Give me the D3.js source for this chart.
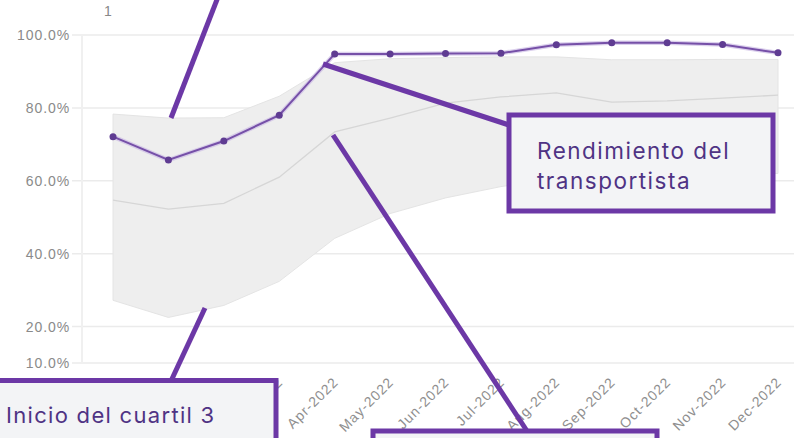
<!DOCTYPE html>
<html><head><meta charset="utf-8">
<script src="https://cdn.jsdelivr.net/npm/d3@7"></script>
<style>
html,body{margin:0;padding:0;background:#fff;}
svg{display:block;}
</style></head>
<body>
<svg id="c" width="794" height="438"></svg>
<script>
const months = ["Dec-2021","Jan-2022","Feb-2022","Mar-2022","Apr-2022","May-2022","Jun-2022","Jul-2022","Aug-2022","Sep-2022","Oct-2022","Nov-2022","Dec-2022"];
const carrier = [72.1, 65.7, 70.9, 78.0, 94.8, 94.8, 94.9, 95.0, 97.3, 97.9, 97.9, 97.4, 95.1];
const upper  = [78.3, 77.2, 77.3, 83.2, 92.4, 93.5, 93.8, 94.0, 94.0, 93.2, 93.2, 93.3, 93.3];
const median = [54.7, 52.2, 53.8, 61.0, 73.4, 77.2, 81.3, 83.0, 84.1, 81.6, 81.9, 82.7, 83.5];
const lower  = [27.2, 22.5, 25.8, 32.4, 44.2, 51.0, 55.3, 58.4, 60.6, 61.5, 61.8, 62.0, 62.0];
const yTicks = [10, 20, 40, 60, 80, 100];
const chartLabel = "1";
const notes = ["Inicio del cuartil 3", "Rendimiento del", "transportista"];

const svg = d3.select("#c");
const x = d3.scalePoint().domain(months).range([113, 778]);
const y = d3.scaleLinear().domain([10, 100]).range([363, 35]);
const rows = months.map((m, i) => ({m, c: carrier[i], u: upper[i], md: median[i], l: lower[i]}));

// grid
svg.append("g").selectAll("line").data(yTicks).join("line")
  .attr("x1", 72).attr("x2", 794)
  .attr("y1", d => y(d)).attr("y2", d => y(d))
  .attr("stroke", "#ebebeb").attr("stroke-width", 1.5);
svg.append("line").attr("x1", 82).attr("x2", 82).attr("y1", y(100)).attr("y2", y(10))
  .attr("stroke", "#f0f0f0").attr("stroke-width", 2);

// y axis
const ya = svg.append("g").attr("transform", "translate(82,0)")
  .call(d3.axisLeft(y).tickValues(yTicks).tickSize(0).tickPadding(12).tickFormat(d => d.toFixed(1) + "%"));
ya.select(".domain").remove();
ya.selectAll("text").attr("font-family", "Arial, Liberation Sans, sans-serif").attr("font-size", 14)
  .attr("letter-spacing", "0.9px").attr("fill", "#8a8a8a").attr("dy", "0.35em");

// x axis
const xa = svg.append("g").attr("transform", "translate(0,363)")
  .call(d3.axisBottom(x).tickSize(0));
xa.select(".domain").remove();
xa.selectAll("text").attr("font-family", "Arial, Liberation Sans, sans-serif").attr("font-size", 14)
  .attr("letter-spacing", "1px").attr("fill", "#8f8f8f")
  .attr("x", 0).attr("y", 0).attr("dy", 0).attr("text-anchor", "end")
  .attr("transform", "translate(4,20) rotate(-45)");

// title "1"
svg.append("text").attr("x", 104).attr("y", 16).attr("font-family", "Arial, Liberation Sans, sans-serif")
  .attr("font-size", 14).attr("fill", "#888").text(chartLabel);

// band
svg.append("path").datum(rows)
  .attr("d", d3.area().x(d => x(d.m)).y0(d => y(d.l)).y1(d => y(d.u)))
  .attr("fill", "#eeeeee").attr("stroke", "#e4e4e4").attr("stroke-width", 1);
svg.append("path").datum(rows)
  .attr("d", d3.line().x(d => x(d.m)).y(d => y(d.md)))
  .attr("fill", "none").attr("stroke", "#d6d6d6").attr("stroke-width", 1.3);

// carrier line
const ln = d3.line().x(d => x(d.m)).y(d => y(d.c));
svg.append("path").datum(rows).attr("d", ln).attr("fill", "none")
  .attr("stroke", "#cdbde6").attr("stroke-width", 4.5).attr("opacity", 0.7);
svg.append("path").datum(rows).attr("d", ln).attr("fill", "none")
  .attr("stroke", "#7650a8").attr("stroke-width", 2);
svg.append("g").selectAll("circle").data(rows).join("circle")
  .attr("cx", d => x(d.m)).attr("cy", d => y(d.c)).attr("r", 3.5).attr("fill", "#5f3c92");

// annotations
const P = "#6c38a6";
const ann = svg.append("g").attr("stroke", P).attr("stroke-width", 5).attr("stroke-linecap", "butt");
ann.append("line").attr("x1", 218).attr("y1", -3).attr("x2", 171).attr("y2", 118);
ann.append("line").attr("x1", 205).attr("y1", 308).attr("x2", 171).attr("y2", 381);
ann.append("line").attr("x1", 323).attr("y1", 64).attr("x2", 509).attr("y2", 125);
ann.append("line").attr("x1", 333).attr("y1", 135).attr("x2", 527).attr("y2", 431);

const boxes = svg.append("g").attr("fill", "#f3f4f6").attr("stroke", P).attr("stroke-width", 5);
boxes.append("rect").attr("x", -5).attr("y", 380.5).attr("width", 281).attr("height", 70);
boxes.append("rect").attr("x", 509).attr("y", 115).attr("width", 264).attr("height", 96);
boxes.append("rect").attr("x", 373).attr("y", 431).attr("width", 284).attr("height", 40);

const tf = "Inter, 'Open Sans', sans-serif";
svg.append("text").attr("x", 6).attr("y", 423).attr("font-family", tf).attr("font-size", 22)
  .attr("letter-spacing", "1.3px").attr("fill", "#4f3384").text(notes[0]);
svg.append("text").attr("x", 537).attr("y", 158.5).attr("font-family", tf).attr("font-size", 22.5)
  .attr("letter-spacing", "1.5px").attr("fill", "#4f3384").text(notes[1]);
svg.append("text").attr("x", 537).attr("y", 188.5).attr("font-family", tf).attr("font-size", 22.5)
  .attr("letter-spacing", "1.5px").attr("fill", "#4f3384").text(notes[2]);
</script>
</body></html>
